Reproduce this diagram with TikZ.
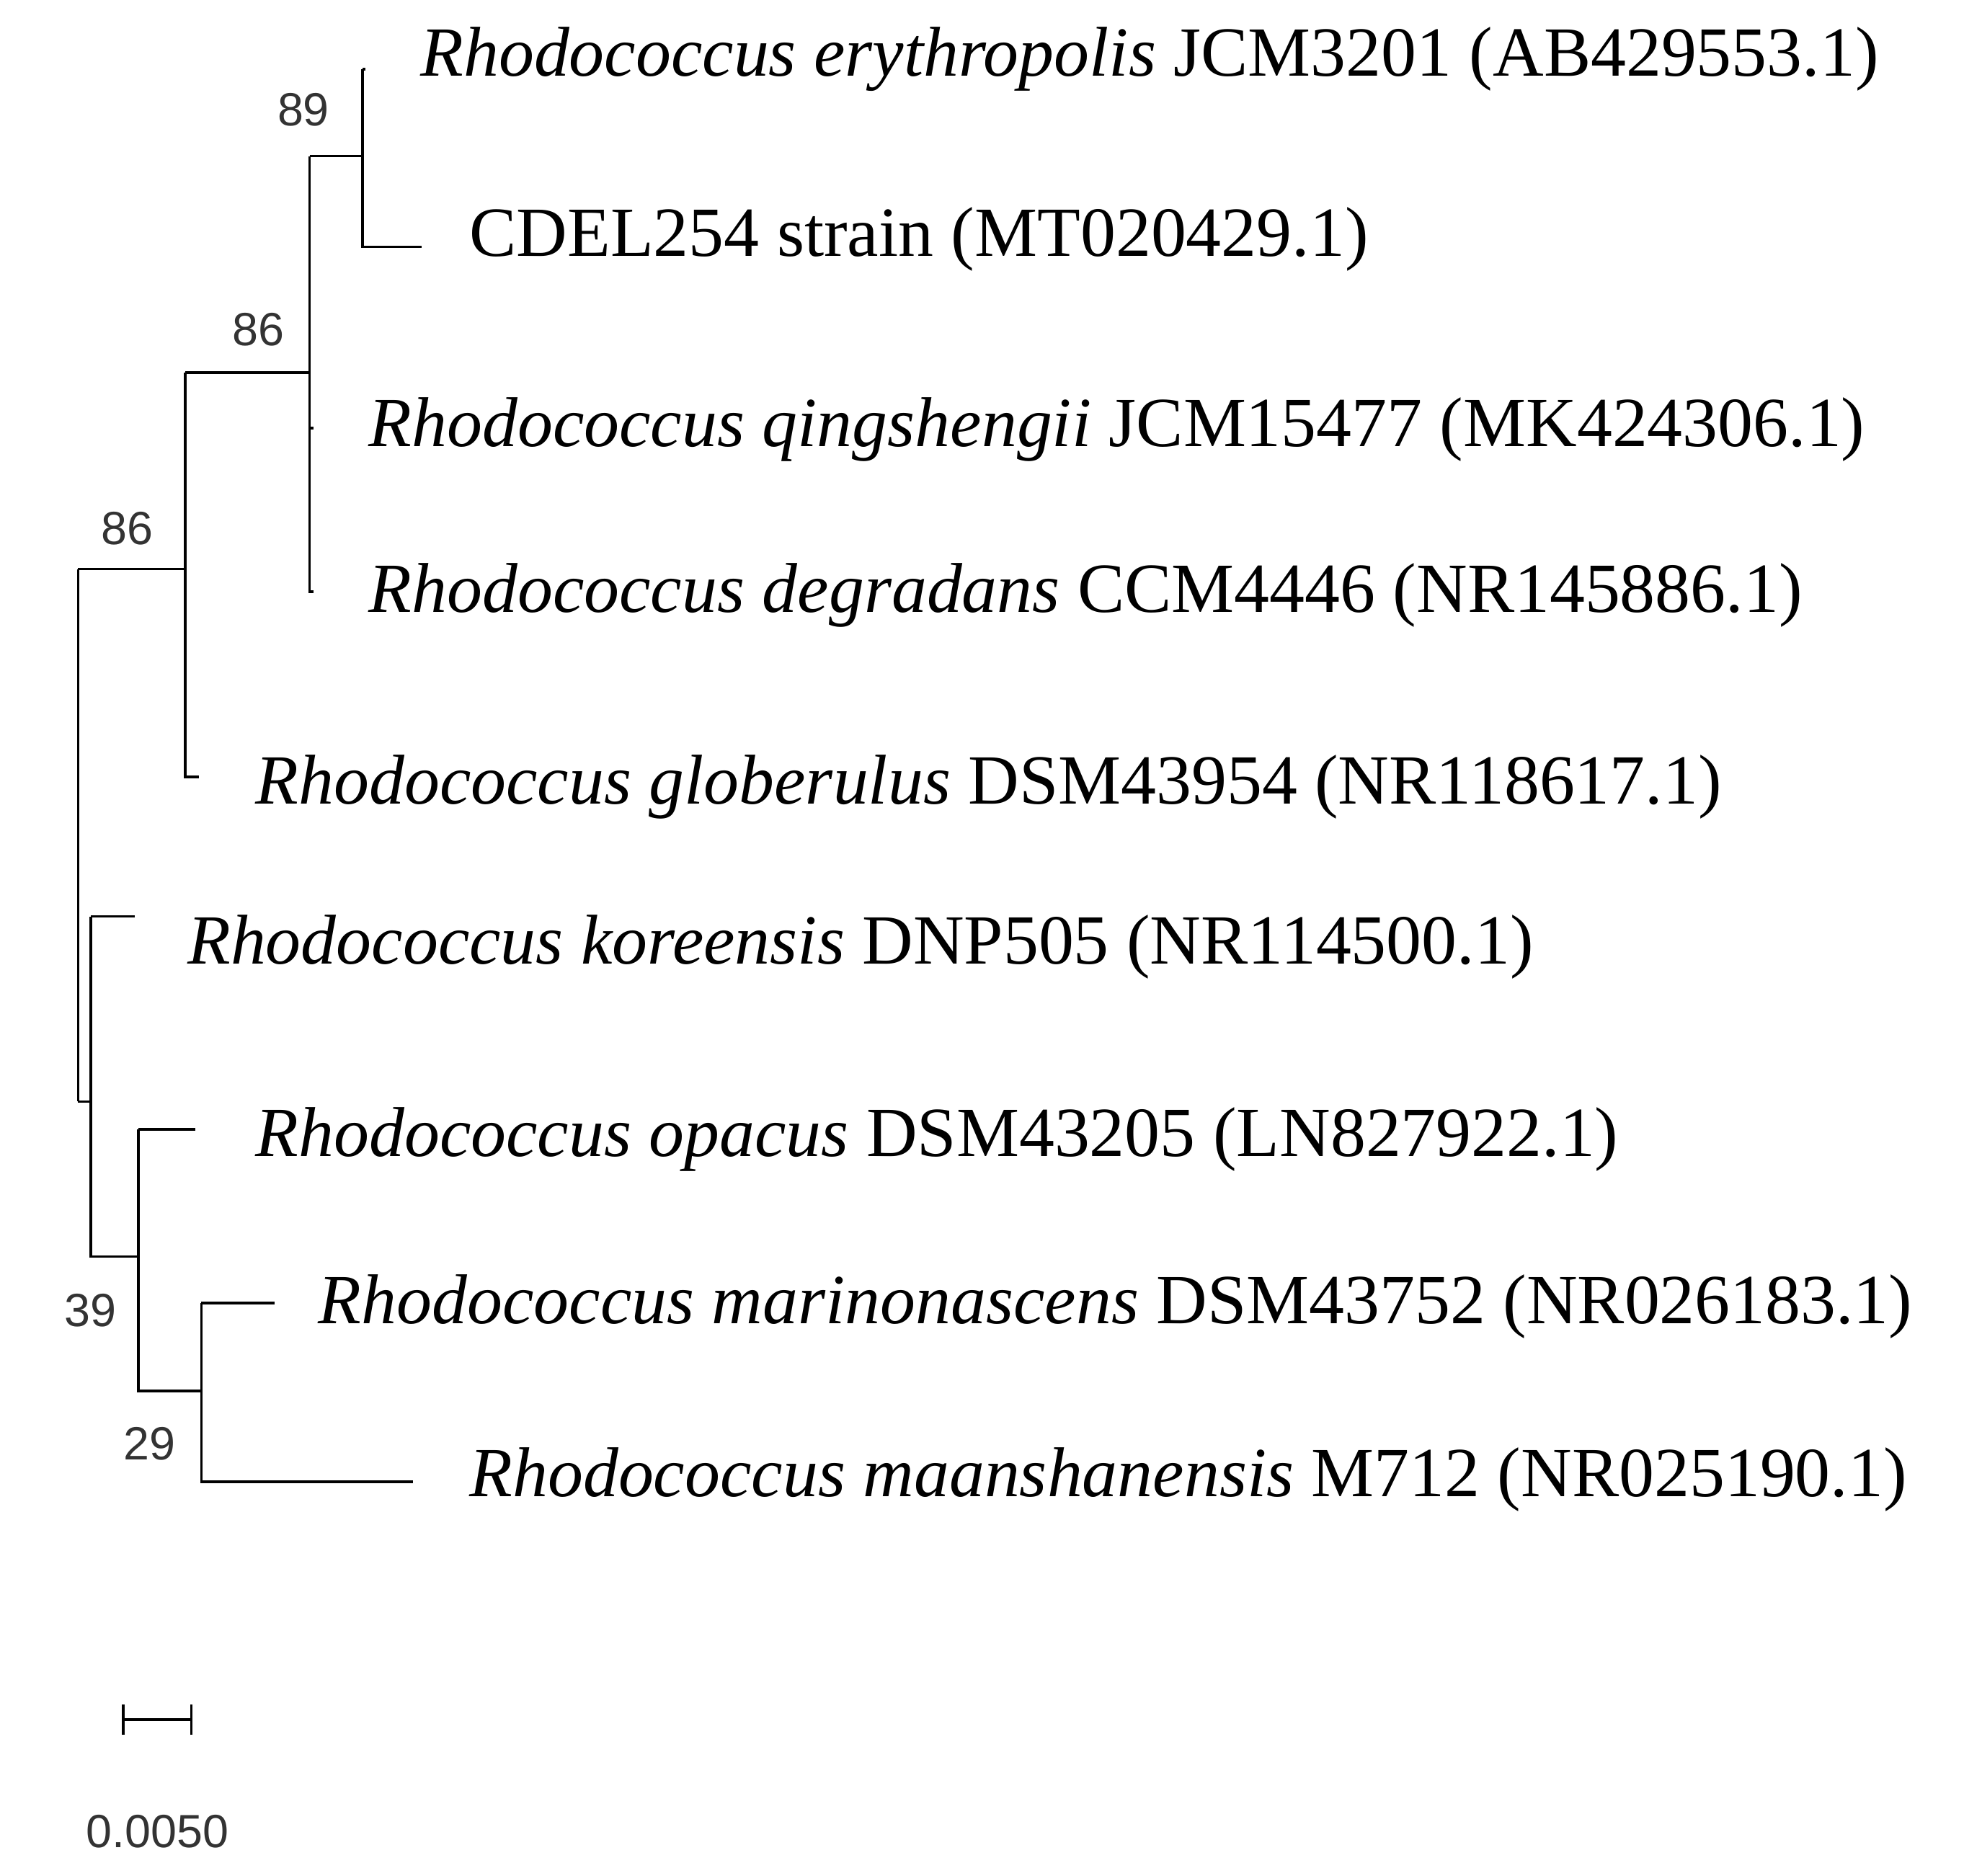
\documentclass[tikz,border=0pt]{standalone}
\usepackage{fontspec}
\setmainfont{Liberation Serif}
\newfontfamily\numfont{Liberation Sans}
\begin{document}
\begin{tikzpicture}[x=0.5pt,y=-0.5pt,line width=1pt,
  tip/.style={anchor=west,inner sep=0pt,font=\fontsize{28}{32}\selectfont},
  boot/.style={inner sep=0pt,font=\numfont\fontsize{18.5}{21}\selectfont,text=black!80}]
\useasboundingbox (0,0) rectangle (1560,1490);
% coordinates
\coordinate (root1) at (62,452); \coordinate (root2) at (62,875);
\coordinate (a) at (147,452); % clade 86 outer
\coordinate (b) at (72,875);  % lower clade
\coordinate (c) at (246,296); % clade 86 inner
\coordinate (d) at (288,124); % clade 89
\coordinate (e) at (110,998); % clade 39
\coordinate (f) at (160,1105); % clade 29
% tips
\coordinate (t1) at (290,55); \coordinate (t2) at (335,196);
\coordinate (t3) at (249,340); \coordinate (t4) at (249,470);
\coordinate (t5) at (158,617); \coordinate (t6) at (107,728);
\coordinate (t7) at (155,897); \coordinate (t8) at (218,1035);
\coordinate (t9) at (328,1177);
% branches
\draw (root1) -- (root2);
\draw (root1) -- (a);
\draw (a |- c) -- (c);
\draw (a |- c) -- (a |- t5) -- (t5);
\draw (c |- d) -- (d);
\draw (c |- d) -- (c |- t4) -- (t4);
\draw (c |- t3) -- (t3);
\draw (d |- t1) -- (d |- t2) -- (t2);
\draw (d |- t1) -- (t1);
\draw (root2) -- (b);
\draw (b |- t6) -- (t6);
\draw (b |- t6) -- (b |- e) -- (e);
\draw (e |- t7) -- (t7);
\draw (e |- t7) -- (e |- f) -- (f);
\draw (f |- t8) -- (t8);
\draw (f |- t8) -- (f |- t9) -- (t9);
% labels
\node[tip] (n1) at (333,47) {\textit{Rhodococcus erythropolis} JCM3201 (AB429553.1)};
\node[tip] (n2) at (372,190) {CDEL254 strain (MT020429.1)};
\node[tip] (n3) at (292,341) {\textit{Rhodococcus qingshengii} JCM15477 (MK424306.1)};
\node[tip] (n4) at (292,473) {\textit{Rhodococcus degradans} CCM4446 (NR145886.1)};
\node[tip] (n5) at (202,625) {\textit{Rhodococcus globerulus} DSM43954 (NR118617.1)};
\node[tip] (n6) at (148,752) {\textit{Rhodococcus koreensis} DNP505 (NR114500.1)};
\node[tip] (n7) at (202,905) {\textit{Rhodococcus opacus} DSM43205 (LN827922.1)};
\node[tip] (n8) at (252,1038) {\textit{Rhodococcus marinonascens} DSM43752 (NR026183.1)};
\node[tip] (n9) at (372,1175) {\textit{Rhodococcus maanshanensis} M712 (NR025190.1)};
% bootstrap
\node[boot] (b89) at (241,87) {89};
\node[boot] (b86a) at (205,262) {86};
\node[boot] (b86b) at (101,420) {86};
\node[boot] (b39) at (72,1041) {39};
\node[boot] (b29) at (119,1147) {29};
% scale bar
\coordinate (s1) at (98,1366); \coordinate (s2) at (152,1366);
\draw (s1) -- (s2);
\draw ([yshift=-6]s1) -- ([yshift=6]s1);
\draw ([yshift=-6]s2) -- ([yshift=6]s2);
\node[boot] (sc) at (125,1455) {0.0050};
\end{tikzpicture}
\end{document}
